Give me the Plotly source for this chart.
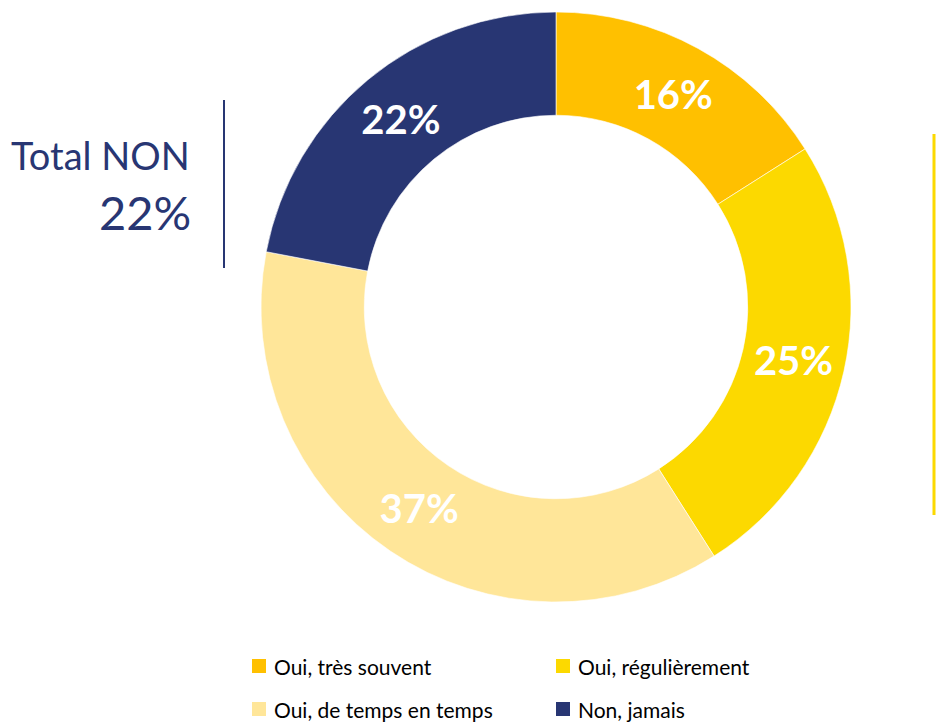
import plotly.graph_objects as go

# Survey answers, clockwise from 12 o'clock
categories = ["Oui, très souvent", "Oui, régulièrement", "Oui, de temps en temps", "Non, jamais"]
shares = [16, 25, 37, 22]
colors = ["#FFC000", "#FCD900", "#FFE699", "#283673"]

total_non = shares[3]

W, H = 936, 728
cx, cy, R = 556, 307, 295  # ring centre and outer radius, px

fig = go.Figure(go.Pie(
    labels=categories,
    values=shares,
    sort=False,
    direction="clockwise",
    rotation=0,
    hole=0.65,
    marker=dict(colors=colors, line=dict(color="white", width=0.6)),
    texttemplate="%{value}%",
    textposition="inside",
    insidetextorientation="horizontal",
    textfont=dict(family="Lato", size=40, color="white", weight="bold"),
    hoverinfo="label+percent",
    showlegend=False,
    domain=dict(x=[(cx - R) / W, (cx + R) / W], y=[1 - (cy + R) / H, 1 - (cy - R) / H]),
))

navy = colors[3]
shapes = [
    dict(type="line", xref="paper", yref="paper", x0=224 / W, x1=224 / W,
         y0=1 - 268 / H, y1=1 - 100 / H, line=dict(color=navy, width=2)),
    dict(type="line", xref="paper", yref="paper", x0=934 / W, x1=934 / W,
         y0=1 - 515 / H, y1=1 - 134 / H, line=dict(color=colors[1], width=3)),
]

annotations = [
    dict(text="Total NON", x=192 / W, y=1 - 155 / H, xref="paper", yref="paper",
         xanchor="right", yanchor="middle", showarrow=False,
         font=dict(family="Lato", size=38, color=navy)),
    dict(text=f"{total_non}%", x=193 / W, y=1 - 212 / H, xref="paper", yref="paper",
         xanchor="right", yanchor="middle", showarrow=False,
         font=dict(family="Lato", size=47, color=navy)),
]

# Two-column legend below the ring
legend_pos = [(252, 666), (556, 666), (252, 709), (556, 709)]
for (lx, ly), name, col in zip(legend_pos, categories, colors):
    shapes.append(dict(type="rect", xref="paper", yref="paper",
                       x0=lx / W, x1=(lx + 14) / W, y0=1 - (ly + 7) / H, y1=1 - (ly - 7) / H,
                       fillcolor=col, line=dict(width=0)))
    annotations.append(dict(text=name, x=(lx + 20) / W, y=1 - ly / H, xref="paper", yref="paper",
                            xanchor="left", yanchor="middle", showarrow=False,
                            font=dict(family="Lato", size=21, color="#000000")))

fig.update_layout(
    width=W, height=H,
    margin=dict(l=0, r=0, t=0, b=0),
    paper_bgcolor="white", plot_bgcolor="white",
    shapes=shapes, annotations=annotations,
)

fig.write_html("out.html")
